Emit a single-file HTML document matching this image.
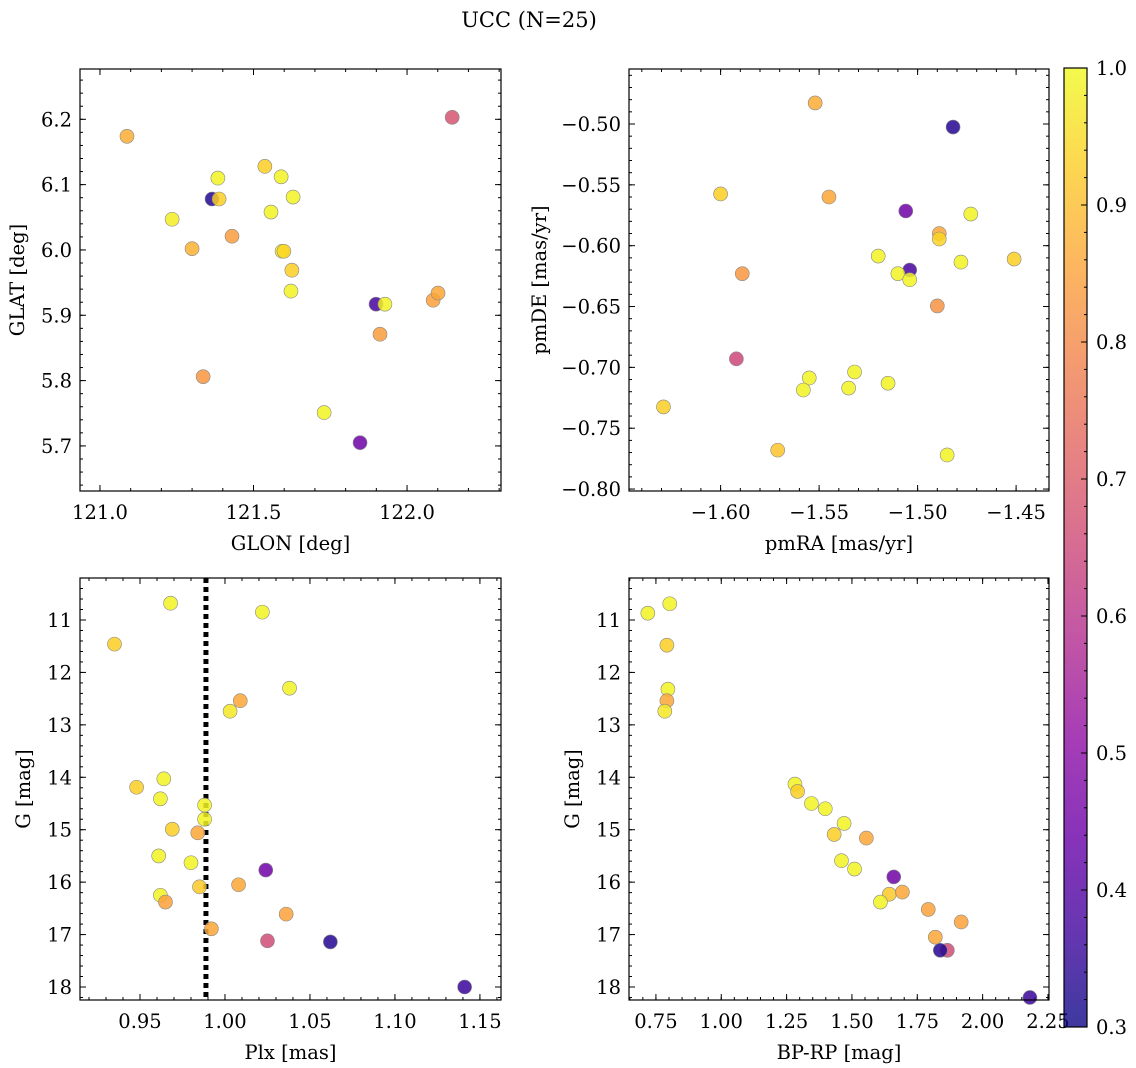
<!DOCTYPE html>
<html><head><meta charset="utf-8">
<style>
html,body{margin:0;padding:0;background:#fff;}
svg{display:block;font-family:"DejaVu Serif","Liberation Serif",serif;}
</style></head>
<body>
<svg id="fig" width="1136" height="1068" viewBox="0 0 1136 1068" xmlns="http://www.w3.org/2000/svg">
<text x="529" y="27" font-size="21" text-anchor="middle" fill="#000">UCC (N=25)</text>
<defs>
<linearGradient id="plasma" x1="0" y1="1" x2="0" y2="0">
<stop offset="0" stop-color="#0d0887"/><stop offset="0.1" stop-color="#41049d"/><stop offset="0.2" stop-color="#6a00a8"/><stop offset="0.3" stop-color="#8f0da4"/><stop offset="0.4" stop-color="#b12a90"/><stop offset="0.5" stop-color="#cc4778"/><stop offset="0.6" stop-color="#e16462"/><stop offset="0.7" stop-color="#f2844b"/><stop offset="0.8" stop-color="#fca636"/><stop offset="0.9" stop-color="#fcce25"/><stop offset="1" stop-color="#f0f921"/>
</linearGradient>
</defs>
</svg>
<script>
// ---- data ----
const glon = [121.088,122.147,121.235,121.300,121.365,121.384,121.388,121.430,121.537,121.590,121.557,121.593,121.599,121.629,121.625,121.622,121.336,121.730,121.847,121.899,121.928,121.912,122.085,122.101];
const glat = [6.174,6.203,6.047,6.002,6.078,6.110,6.078,6.021,6.128,6.112,6.058,5.998,5.998,6.081,5.969,5.937,5.806,5.751,5.705,5.917,5.917,5.871,5.923,5.934];
const prob1 = [0.87,0.68,0.98,0.88,0.33,0.99,0.93,0.84,0.93,0.99,0.99,0.99,0.94,0.99,0.93,0.99,0.83,0.99,0.45,0.38,0.99,0.84,0.85,0.86];

const pmra = [-1.552,-1.482,-1.600,-1.545,-1.506,-1.473,-1.489,-1.489,-1.451,-1.520,-1.478,-1.504,-1.510,-1.504,-1.589,-1.490,-1.592,-1.555,-1.532,-1.515,-1.558,-1.535,-1.629,-1.571,-1.485];
const pmde = [-0.4827,-0.5025,-0.5575,-0.5600,-0.5715,-0.5740,-0.5900,-0.5945,-0.6110,-0.6085,-0.6135,-0.6200,-0.6230,-0.6280,-0.6230,-0.6495,-0.6930,-0.7087,-0.7038,-0.7130,-0.7186,-0.7170,-0.7325,-0.7680,-0.7720];
const prob2 = [0.87,0.33,0.93,0.86,0.45,0.99,0.86,0.94,0.93,0.99,0.99,0.38,0.99,0.99,0.83,0.82,0.65,0.99,0.99,0.99,0.99,0.99,0.93,0.91,0.99];

const plx = [0.968,0.935,1.022,1.038,1.009,1.003,0.964,0.948,0.962,0.988,0.988,0.969,0.984,0.961,0.980,1.024,0.985,1.008,0.962,0.965,1.036,0.992,1.025,1.062,1.141];
const gmag3 = [10.68,11.46,10.85,12.30,12.54,12.74,14.03,14.19,14.41,14.53,14.80,14.99,15.06,15.50,15.63,15.77,16.09,16.05,16.25,16.38,16.61,16.89,17.12,17.14,18.00];
const prob3 = [0.99,0.93,0.99,0.99,0.86,0.97,0.99,0.93,0.99,0.99,0.99,0.93,0.86,0.99,0.99,0.45,0.92,0.86,0.99,0.85,0.85,0.86,0.66,0.33,0.36];
const plxLine = 0.9888;

const bprp = [0.719,0.803,0.792,0.796,0.792,0.784,1.282,1.292,1.345,1.398,1.470,1.432,1.555,1.460,1.510,1.660,1.643,1.693,1.609,1.792,1.918,1.819,1.865,1.838,2.181];
const gmag4 = [10.87,10.69,11.48,12.32,12.54,12.74,14.13,14.27,14.50,14.60,14.88,15.09,15.16,15.59,15.75,15.90,16.23,16.19,16.38,16.52,16.76,17.05,17.30,17.30,18.20];
const prob4 = [0.99,0.99,0.93,0.99,0.86,0.97,0.99,0.93,0.99,0.99,0.99,0.93,0.86,0.99,0.99,0.45,0.92,0.86,0.99,0.85,0.85,0.86,0.66,0.33,0.36];

const ticks1x = ["121.0","121.5","122.0"], ticks1y = ["5.7","5.8","5.9","6.0","6.1","6.2"];
const ticks2x = ["\u22121.60","\u22121.55","\u22121.50","\u22121.45"], ticks2y = ["\u22120.80","\u22120.75","\u22120.70","\u22120.65","\u22120.60","\u22120.55","\u22120.50"];
const ticks3x = ["0.95","1.00","1.05","1.10","1.15"], ticksG = ["11","12","13","14","15","16","17","18"];
const ticks4x = ["0.75","1.00","1.25","1.50","1.75","2.00","2.25"];
const cbTicks = ["0.3","0.4","0.5","0.6","0.7","0.8","0.9","1.0"];

// ---- helpers ----
const NS="http://www.w3.org/2000/svg";
const svg=document.getElementById('fig');
const FS=19.5;
function mk(tag,attrs,parent){const e=document.createElementNS(NS,tag);for(const k in attrs)e.setAttribute(k,attrs[k]);(parent||svg).appendChild(e);return e;}
const stops=[[0,[13,8,135]],[0.1,[65,4,157]],[0.2,[106,0,168]],[0.3,[143,13,164]],[0.4,[177,42,144]],[0.5,[204,71,120]],[0.6,[225,100,98]],[0.7,[242,132,75]],[0.8,[252,166,54]],[0.9,[252,206,37]],[1,[240,249,33]]];
function plasma(v){let t=(v-0.3)/0.7;t=Math.max(0,Math.min(1,t));for(let i=1;i<stops.length;i++){if(t<=stops[i][0]){const a=stops[i-1],b=stops[i];const f=(t-a[0])/(b[0]-a[0]);return 'rgb('+a[1].map((c,j)=>Math.round(c+(b[1][j]-c)*f)).join(',')+')';}}return 'rgb(240,249,33)';}

function panel(o){
  const g=mk('g',{});
  
  
  const sx=v=>o.L+(v-o.x0)/(o.x1-o.x0)*(o.R-o.L);
  const sy=o.invert? (v=>o.T+(v-o.y0)/(o.y1-o.y0)*(o.B-o.T)) : (v=>o.B-(v-o.y0)/(o.y1-o.y0)*(o.B-o.T));
  const tg=mk('g',{stroke:'#000','stroke-width':1},g);
  function xt(v,len){const x=sx(v);if(x<o.L-0.5||x>o.R+0.5)return;mk('line',{x1:x,x2:x,y1:o.B,y2:o.B-len},tg);mk('line',{x1:x,x2:x,y1:o.T,y2:o.T+len},tg);}
  function yt(v,len){const y=sy(v);if(y<o.T-0.5||y>o.B+0.5)return;mk('line',{y1:y,y2:y,x1:o.L,x2:o.L+len},tg);mk('line',{y1:y,y2:y,x1:o.R,x2:o.R-len},tg);}
  for(let v=Math.ceil(Math.min(o.x0,o.x1)/o.xmin)*o.xmin;v<=Math.max(o.x0,o.x1);v+=o.xmin)xt(v,3);
  for(let v=Math.ceil(Math.min(o.y0,o.y1)/o.ymin)*o.ymin;v<=Math.max(o.y0,o.y1);v+=o.ymin)yt(v,3);
  o.xt.forEach(s=>{const v=parseFloat(s.replace('\u2212','-'));xt(v,6);
    const t=mk('text',{x:sx(v),y:o.B+28,'font-size':FS,'text-anchor':'middle'},g);t.textContent=s;
    });
  o.yt.forEach(s=>{const v=parseFloat(s.replace('\u2212','-'));yt(v,6);
    const t=mk('text',{x:o.L-8,y:sy(v)+7,'font-size':FS,'text-anchor':'end'},g);t.textContent=s;
    });
  if(o.vline!==undefined){const l=mk('line',{x1:sx(o.vline),x2:sx(o.vline),y1:o.T,y2:o.B,stroke:'#000','stroke-width':5,'stroke-dasharray':'5 4'},g);
    }
  o.xs.forEach((xv,i)=>{const c=mk('circle',{cx:sx(xv),cy:sy(o.ys[i]),r:7,fill:plasma(o.cs[i]),'fill-opacity':0.85,stroke:'#888','stroke-width':0.6},g);
    });
  const fr=mk('rect',{x:o.L,y:o.T,width:o.R-o.L,height:o.B-o.T,fill:'none',stroke:'#000','stroke-width':1.2},g);
  
  const xl=mk('text',{x:(o.L+o.R)/2,y:o.B+59,'font-size':FS,'text-anchor':'middle'},g);xl.textContent=o.xlab;
  
  const yx=o.ylx,yy=(o.T+o.B)/2;
  const yl=mk('text',{x:yx,y:yy,'font-size':FS,'text-anchor':'middle',transform:'rotate(-90 '+yx+' '+yy+')'},g);yl.textContent=o.ylab;
  
}

panel({name:'glon-glat-panel',L:80,R:501,T:69,B:491,x0:120.935,x1:122.306,y0:5.631,y1:6.277,xmin:0.1,ymin:0.02,xt:ticks1x,yt:ticks1y,xs:glon,ys:glat,cs:prob1,xlab:'GLON [deg]',ylab:'GLAT [deg]',ylx:24});
panel({name:'pm-panel',L:629,R:1049,T:69,B:491,x0:-1.6465,x1:-1.4333,y0:-0.8016,y1:-0.4548,xmin:0.01,ymin:0.01,xt:ticks2x,yt:ticks2y,xs:pmra,ys:pmde,cs:prob2,xlab:'pmRA [mas/yr]',ylab:'pmDE [mas/yr]',ylx:546});
panel({name:'plx-g-panel',L:80,R:501,T:578,B:1000,x0:0.9147,x1:1.1624,y0:10.199,y1:18.248,invert:true,xmin:0.01,ymin:0.2,xt:ticks3x,yt:ticksG,xs:plx,ys:gmag3,cs:prob3,xlab:'Plx [mas]',ylab:'G [mag]',ylx:30,vline:plxLine});
panel({name:'cmd-panel',L:629,R:1049,T:578,B:1000,x0:0.647,x1:2.254,y0:10.199,y1:18.248,invert:true,xmin:0.05,ymin:0.2,xt:ticks4x,yt:ticksG,xs:bprp,ys:gmag4,cs:prob4,xlab:'BP-RP [mag]',ylab:'G [mag]',ylx:579});

// colorbar
const cb=mk('g',{});


const cT=68,cB=1027,cL=1064,cR=1087;
mk('rect',{x:cL,y:cT,width:cR-cL,height:cB-cT,fill:'url(#plasma)','fill-opacity':0.8},cb);
mk('rect',{x:cL,y:cT,width:cR-cL,height:cB-cT,fill:'none',stroke:'#000','stroke-width':1.2},cb);
const cy=v=>cB-(v-0.3)/0.7*(cB-cT);
for(let v=0.3;v<=1.0001;v+=0.02){mk('line',{x1:cR,x2:cR-3,y1:cy(v),y2:cy(v),stroke:'#000'},cb);}
cbTicks.forEach(s=>{const v=parseFloat(s);mk('line',{x1:cR,x2:cR-6,y1:cy(v),y2:cy(v),stroke:'#000'},cb);
  const t=mk('text',{x:cR+9,y:cy(v)+7,'font-size':FS},cb);t.textContent=s;
  });
</script>
</body></html>
